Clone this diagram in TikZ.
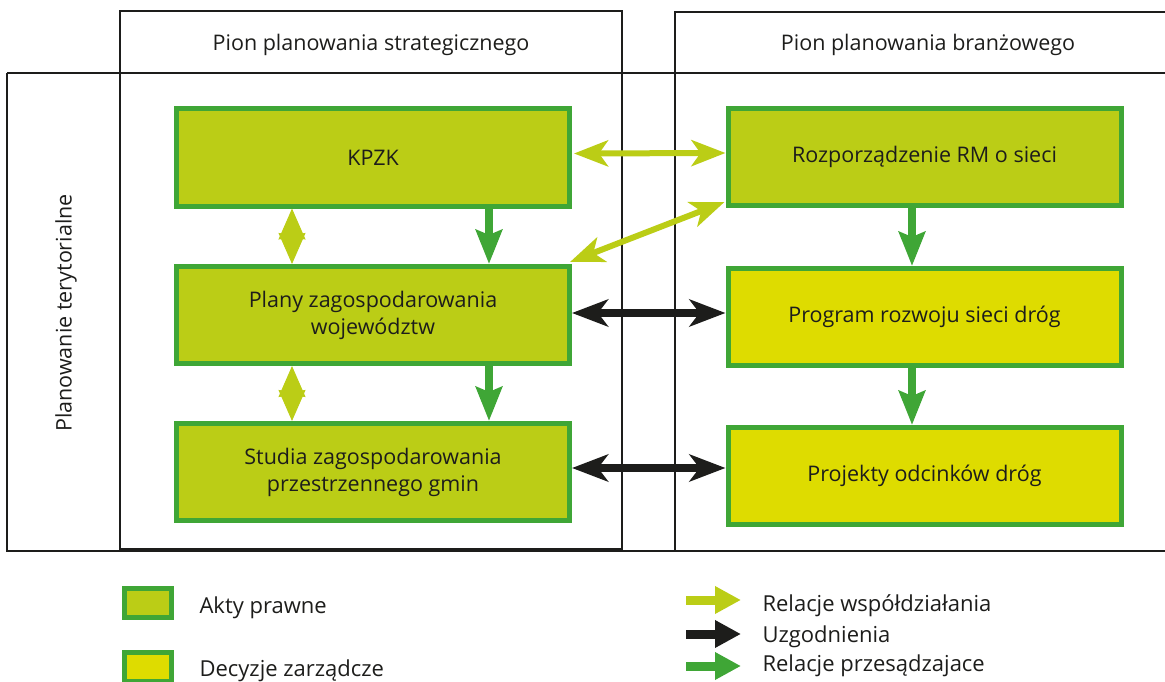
\documentclass[tikz,border=0pt]{standalone}
\usepackage{fontspec}
\setmainfont{Open Sans}
\usetikzlibrary{arrows.meta}
\definecolor{lime}{HTML}{BBCD16}
\definecolor{bgreen}{HTML}{3FA636}
\definecolor{yel}{HTML}{DEDC00}
\definecolor{ink}{HTML}{1D1D1B}
\tikzset{
  frameline/.style={draw=ink, line width=2pt},
  actbox/.style={draw=bgreen, fill=lime, line width=5pt, minimum width=393pt, minimum height=97pt, align=center, font=\fontsize{21.5}{27}\selectfont, text=ink},
  decbox/.style={actbox, fill=yel},
  coop/.style={draw=lime, line width=6pt, {Stealth[length=34pt,width=26pt,inset=9pt]}-{Stealth[length=34pt,width=26pt,inset=9pt]}},
  agree/.style={draw=ink, line width=8pt, {Stealth[length=36pt,width=27pt,inset=10pt]}-{Stealth[length=36pt,width=27pt,inset=10pt]}},
  decide/.style={draw=bgreen, line width=8pt, -{Stealth[length=34pt,width=26pt,inset=5pt]}},
  vcoop/.style={draw=lime, line width=1pt, {Stealth[length=31pt,width=27pt,inset=2pt]}-{Stealth[length=31pt,width=27pt,inset=2pt]}},
  legarrow/.style={line width=9pt, -{Triangle[length=26pt,width=26pt]}},
  legbox/.style={draw=bgreen, line width=5pt, minimum width=47pt, minimum height=29pt},
  lbl/.style={font=\fontsize{21.5}{26}\selectfont, text=ink},
  leglbl/.style={font=\fontsize{22}{26}\selectfont, text=ink, anchor=west},
}
\begin{document}
\begin{tikzpicture}[x=1pt,y=-1pt]
\useasboundingbox (0,0) rectangle (1165,682);
% frames
\draw[frameline] (120,11) rectangle (622,549);
\draw[frameline] (1166,12) -- (675,12) -- (675,551);
\draw[frameline] (7,73) -- (1166,73);
\draw[frameline] (7,73) -- (7,551) -- (1166,551);
\node[lbl] (h1) at (371,45) {Pion planowania strategicznego};
\node[lbl] (h2) at (928,45) {Pion planowania branżowego};
\node[lbl, rotate=90] (row) at (66,313) {Planowanie terytorialne};
% boxes
\node[actbox] (kpzk) at (373,157.5) {KPZK};
\node[actbox] (plany) at (373,315) {Plany zagospodarowania\\województw};
\node[actbox] (studia) at (373,472) {Studia zagospodarowania\\przestrzennego gmin};
\node[actbox] (rozp) at (924.5,157) {Rozporządzenie RM o sieci};
\node[decbox] (prog) at (924.5,317) {Program rozwoju sieci dróg};
\node[decbox] (proj) at (924.5,476) {Projekty odcinków dróg};
% arrows
\draw[coop] ([xshift=2pt,yshift=4pt]kpzk.east) -- ([yshift=4pt]rozp.west);
\draw[coop] ([shift={(-2,-2)}]plany.north east) -- ([shift={(-1,-6)}]rozp.south west);
\draw[agree] ([yshift=2pt]plany.east) -- ([yshift=4pt]prog.west);
\draw[agree] ([yshift=4pt]studia.east) -- ([yshift=8pt]proj.west);
\draw[vcoop] ([xshift=-81pt]kpzk.south) -- ([xshift=-81pt]plany.north);
\draw[vcoop] ([xshift=-81pt]plany.south) -- ([xshift=-81pt]studia.north);
\draw[decide] ([xshift=116pt]kpzk.south) -- ([xshift=116pt]plany.north);
\draw[decide] ([xshift=116pt]plany.south) -- ([xshift=116pt]studia.north);
\draw[decide] ([xshift=-12.5pt]rozp.south) -- ([xshift=-12.5pt]prog.north);
\draw[decide] ([xshift=-12.5pt]prog.south) -- ([xshift=-12.5pt]proj.north);
% legend
\node[legbox, fill=lime] (l1) at (148,603) {};
\node[legbox, fill=yel] (l2) at (148,667) {};
\node[leglbl] (t1) at (196,608) {Akty prawne};
\node[leglbl] (t2) at (196,671) {Decyzje zarządcze};
\coordinate (a1s) at (686,600); \coordinate (a1e) at (741,600);
\coordinate (a2s) at (686,634); \coordinate (a2e) at (741,634);
\coordinate (a3s) at (686,666); \coordinate (a3e) at (741,666);
\draw[legarrow, draw=lime, fill=lime] (a1s) -- (a1e);
\draw[legarrow, draw=ink, fill=ink] (a2s) -- (a2e);
\draw[legarrow, draw=bgreen, fill=bgreen] (a3s) -- (a3e);
\node[leglbl] (t3) at (759,606) {Relacje współdziałania};
\node[leglbl] (t4) at (759,637) {Uzgodnienia};
\node[leglbl] (t5) at (759,666) {Relacje przesądzajace};
\end{tikzpicture}
\end{document}
